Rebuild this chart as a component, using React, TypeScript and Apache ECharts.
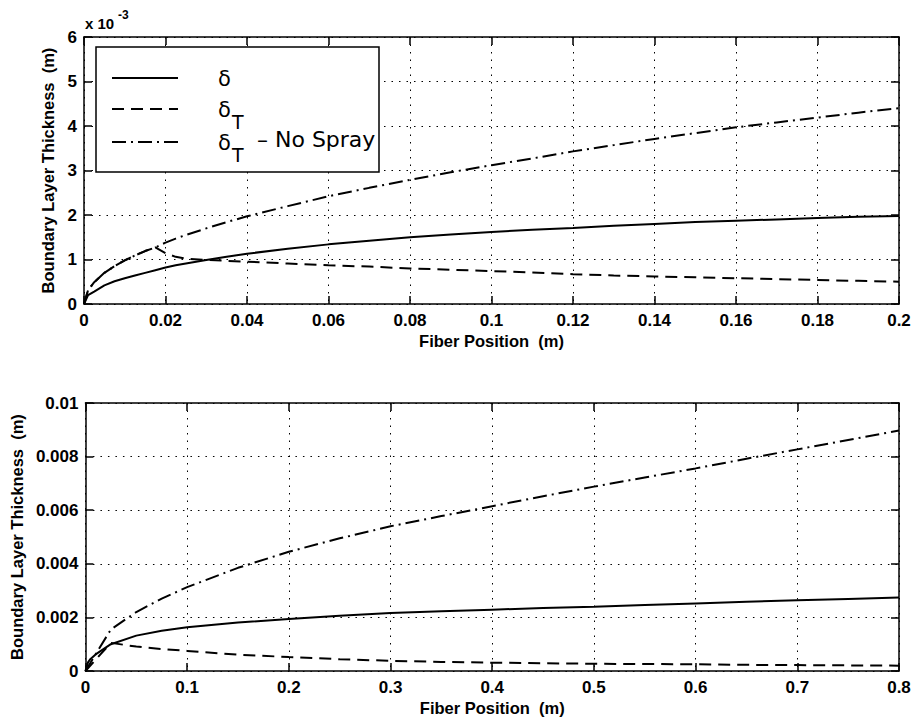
import React, { useEffect, useRef } from "react";
import * as echarts from "echarts";

// ---------- Top plot (y in units of 1e-3 m) ----------
const topX = [0, 0.001, 0.0025, 0.005, 0.0075, 0.01, 0.0125, 0.015, 0.0175, 0.02, 0.0225, 0.025, 0.03, 0.035, 0.04, 0.05, 0.06, 0.07, 0.08, 0.09, 0.1, 0.11, 0.12, 0.13, 0.14, 0.15, 0.16, 0.17, 0.18, 0.19, 0.2];
const topDelta = [0, 0.2, 0.28, 0.42, 0.51, 0.58, 0.64, 0.7, 0.76, 0.82, 0.87, 0.91, 0.99, 1.06, 1.13, 1.24, 1.34, 1.42, 1.5, 1.56, 1.62, 1.67, 1.71, 1.76, 1.8, 1.84, 1.87, 1.9, 1.93, 1.96, 1.98];
const topDeltaT = [0, 0.31, 0.49, 0.7, 0.85, 0.98, 1.09, 1.19, 1.27, 1.14, 1.06, 1.02, 0.99, 0.97, 0.95, 0.91, 0.87, 0.84, 0.8, 0.77, 0.74, 0.71, 0.67, 0.64, 0.62, 0.6, 0.58, 0.56, 0.54, 0.52, 0.5];
const topNoSpray = [0, 0.31, 0.49, 0.7, 0.85, 0.98, 1.09, 1.19, 1.27, 1.38, 1.47, 1.55, 1.7, 1.84, 1.97, 2.2, 2.42, 2.61, 2.79, 2.96, 3.12, 3.27, 3.43, 3.57, 3.71, 3.84, 3.97, 4.08, 4.19, 4.3, 4.4];

// ---------- Bottom plot (y in m) ----------
const botXFine = [0, 0.0025, 0.005, 0.01, 0.025, 0.05, 0.075, 0.1, 0.15, 0.2, 0.25, 0.3, 0.35, 0.4, 0.45, 0.5, 0.55, 0.6, 0.65, 0.7, 0.75, 0.8];
const botDelta = [0, 0.00032, 0.00045, 0.00062, 0.001, 0.00132, 0.0015, 0.00163, 0.00181, 0.00194, 0.00206, 0.00216, 0.00223, 0.00229, 0.00235, 0.0024, 0.00246, 0.00252, 0.00258, 0.00264, 0.00269, 0.00274];
const botXCoarse = [0, 0.025, 0.05, 0.075, 0.1, 0.15, 0.2, 0.25, 0.3, 0.35, 0.4, 0.45, 0.5, 0.55, 0.6, 0.65, 0.7, 0.75, 0.8];
const botDeltaT = [0, 0.00105, 0.00091, 0.00082, 0.00075, 0.00061, 0.00052, 0.00044, 0.00038, 0.00034, 0.00031, 0.00029, 0.00027, 0.00026, 0.00025, 0.00023, 0.00022, 0.00021, 0.0002];
const botNoSpray = [0, 0.00155, 0.0022, 0.0027, 0.00313, 0.00385, 0.00445, 0.00495, 0.0054, 0.00578, 0.00615, 0.00652, 0.00688, 0.00722, 0.00756, 0.00792, 0.00827, 0.00862, 0.00897];

const seriesNames = ["δ", "δT", "δT – No Spray"];
const xTitle = "Fiber Position  (m)";
const yTitle = "Boundary Layer Thickness  (m)";
const topScaleLabel = "x 10";
const topScaleExp = "-3";

const AXFONT = '"Liberation Sans", Arial, sans-serif';
const LEGFONT = '"DejaVu Sans", sans-serif';
const DASH = [12, 7];
const DASHDOT = [14, 5, 2, 5];

const zip = (xs: number[], ys: number[]) => xs.map((x, i) => [x, ys[i]]);

function App() {
  const ref = useRef<HTMLDivElement>(null);
  useEffect(() => {
    if (!ref.current) return;
    const chart = echarts.init(ref.current, null, { renderer: "svg" });

    const tickFont = { color: "#000", fontFamily: AXFONT, fontWeight: "bold", fontSize: 17 };
    const titleFont = { color: "#000", fontFamily: AXFONT, fontWeight: "bold", fontSize: 16.5 };
    const axisLine = { show: true, onZero: false, lineStyle: { color: "#000", width: 1.5 } };
    const tick = { show: true, inside: true, length: 8, lineStyle: { color: "#000", width: 1.5 } };
    const split = { show: true, lineStyle: { color: "#000", width: 1, type: [1.5, 6] } };

    const mainX = (grid: number, max: number, interval: number) => ({
      type: "value", gridIndex: grid, min: 0, max, interval, position: "bottom",
      axisLine, axisTick: tick, splitLine: split,
      axisLabel: { ...tickFont, margin: 8, formatter: (v: number) => String(+v.toFixed(3)) },
      name: xTitle, nameLocation: "middle", nameGap: 28,
      nameTextStyle: { ...titleFont },
    });
    const boxX = (grid: number, max: number, interval: number) => ({
      type: "value", gridIndex: grid, min: 0, max, interval, position: "top",
      axisLine, axisTick: tick, splitLine: { show: false }, axisLabel: { show: false },
    });
    const mainY = (grid: number, max: number, interval: number, gap: number, fmt: (v: number) => string) => ({
      type: "value", gridIndex: grid, min: 0, max, interval, position: "left",
      axisLine, axisTick: tick, splitLine: split,
      axisLabel: { ...tickFont, margin: 7, formatter: fmt },
      name: yTitle, nameLocation: "middle", nameGap: gap,
      nameTextStyle: { ...titleFont },
    });
    const boxY = (grid: number, max: number, interval: number) => ({
      type: "value", gridIndex: grid, min: 0, max, interval, position: "right",
      axisLine, axisTick: tick, splitLine: { show: false }, axisLabel: { show: false },
    });

    const line = (name: string, data: number[][], xi: number, yi: number, type: any) => ({
      type: "line", name, data, xAxisIndex: xi, yAxisIndex: yi,
      showSymbol: false, symbol: "none", smooth: false, silent: true,
      lineStyle: { color: "#000", width: 2, type },
      z: 5,
    });

    const legendRows = [78, 109, 142];
    const legendTypes: any[] = [null, DASH, DASHDOT];
    const graphic: any[] = [
      {
        type: "rect", z: 50,
        shape: { x: 96, y: 47, width: 283, height: 125 },
        style: { fill: "#fff", stroke: "#000", lineWidth: 1.5 },
      },
    ];
    legendRows.forEach((y, i) => {
      graphic.push({
        type: "line", z: 51,
        shape: { x1: 112, y1: y, x2: 178, y2: y },
        style: { stroke: "#000", lineWidth: 2, lineDash: legendTypes[i] || undefined },
      });
      graphic.push({
        type: "text", z: 51, x: 218, y: y + 1,
        style: { text: seriesNames[i].charAt(0), font: `normal 21px ${LEGFONT}`, fill: "#000", align: "left", verticalAlign: "middle" },
      });
      if (i > 0) {
        graphic.push({
          type: "text", z: 51, x: 232, y: y + 13,
          style: { text: seriesNames[i].charAt(1), font: `normal 19px ${LEGFONT}`, fill: "#000", align: "left", verticalAlign: "middle" },
        });
      }
      if (i === 2) {
        graphic.push({
          type: "text", z: 51, x: 250, y: y - 3,
          style: { text: seriesNames[i].slice(2), font: `normal 22px ${LEGFONT}`, fill: "#000", align: "left", verticalAlign: "middle" },
        });
      }
    });
    graphic.push({
      type: "text", z: 51, x: 85, y: 23,
      style: { text: topScaleLabel, font: `bold 15px ${AXFONT}`, fill: "#000", align: "left", verticalAlign: "middle" },
    });
    graphic.push({
      type: "text", z: 51, x: 118, y: 15,
      style: { text: topScaleExp, font: `bold 12px ${AXFONT}`, fill: "#000", align: "left", verticalAlign: "middle" },
    });

    chart.setOption({
      animation: false,
      backgroundColor: "#fff",
      grid: [
        { left: 84, top: 37, width: 815, height: 267, containLabel: false },
        { left: 84, top: 403, width: 815, height: 268, containLabel: false },
      ],
      xAxis: [mainX(0, 0.2, 0.02), boxX(0, 0.2, 0.02), mainX(1, 0.8, 0.1), boxX(1, 0.8, 0.1)],
      yAxis: [
        mainY(0, 6, 1, 15, (v: number) => String(Math.round(v))),
        boxY(0, 6, 1),
        mainY(1, 0.01, 0.002, 54, (v: number) => String(+v.toFixed(3))),
        boxY(1, 0.01, 0.002),
      ],
      series: [
        line(seriesNames[0], zip(topX, topDelta), 0, 0, "solid"),
        line(seriesNames[1], zip(topX, topDeltaT), 0, 0, DASH),
        line(seriesNames[2], zip(topX, topNoSpray), 0, 0, DASHDOT),
        line(seriesNames[0], zip(botXFine, botDelta), 2, 2, "solid"),
        line(seriesNames[1], zip(botXCoarse, botDeltaT), 2, 2, DASH),
        line(seriesNames[2], zip(botXCoarse, botNoSpray), 2, 2, DASHDOT),
      ],
      graphic,
    });
    return () => chart.dispose();
  }, []);
  return <div ref={ref} style={{ position: "absolute", left: 0, top: 0, width: 916, height: 727 }} />;
}

export default App;
